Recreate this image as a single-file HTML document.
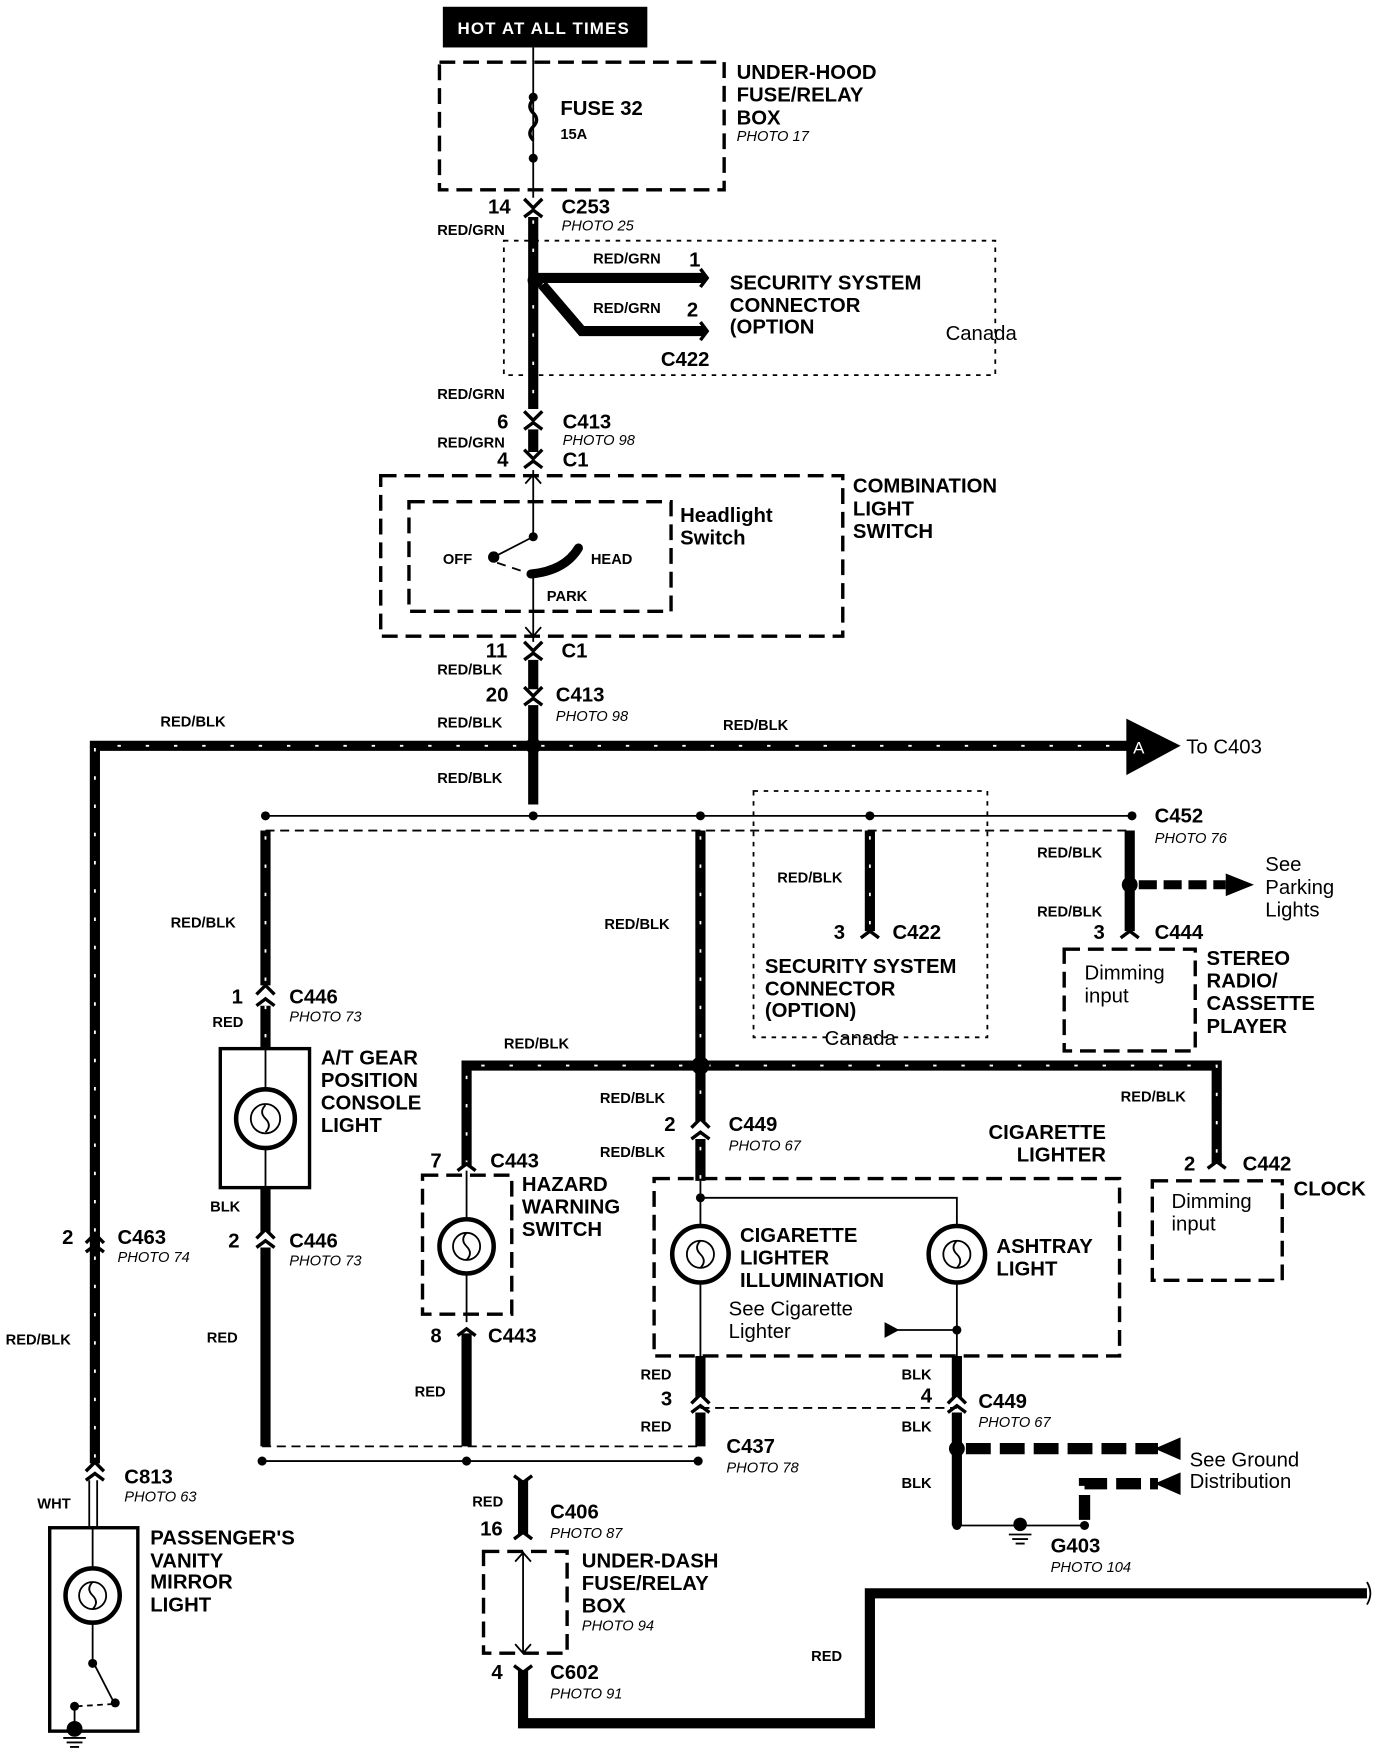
<!DOCTYPE html>
<html><head><meta charset="utf-8"><style>
html,body{margin:0;padding:0;background:#fff;}
svg{display:block;}
text{font-family:"Liberation Sans",Arial,sans-serif;fill:#000;}
.b{font-weight:bold;font-size:18px;}
.s{font-weight:bold;font-size:13px;}
.p{font-style:italic;font-size:13px;}
.n{font-size:18px;}
.w{stroke:#000;stroke-width:9;fill:none;}
.st{stroke:#fff;stroke-width:1.6;fill:none;stroke-dasharray:3 22;}
.t{stroke:#000;stroke-width:1.6;fill:none;}
.d{stroke:#000;stroke-width:3;fill:none;stroke-dasharray:14 7;}
.dt{stroke:#000;stroke-width:1.6;fill:none;stroke-dasharray:4 5;}
.c{stroke:#000;stroke-width:3;fill:none;}
</style></head><body>
<svg width="1376" height="1756" viewBox="0 0 1218 1554" preserveAspectRatio="none" xmlns="http://www.w3.org/2000/svg">
<!-- top -->
<rect x="392" y="6" width="181" height="36" fill="#000"/>
<text x="405" y="30" style="font-weight:bold;font-size:15px;fill:#fff;letter-spacing:1px">HOT AT ALL TIMES</text>
<rect x="389" y="55" width="252" height="113" class="d"/>
<line x1="472" y1="42" x2="472" y2="175" class="t"/>
<path d="M472 88 q-6 6 0 12 q6 6 0 12 q-6 6 0 12" class="c" stroke-width="2"/>
<circle cx="472" cy="86" r="4"/><circle cx="472" cy="140" r="4"/>
<text x="496" y="102" class="b">FUSE 32</text><text x="496" y="123" class="s">15A</text>
<text x="652" y="70" class="b">UNDER-HOOD</text><text x="652" y="90" class="b">FUSE/RELAY</text><text x="652" y="110" class="b">BOX</text><text x="652" y="125" class="p">PHOTO 17</text>
<!-- C253 -->
<path d="M464 176 l8 8 l8 -8 M464 192 l8 -6 l8 6" class="c"/>
<text x="432" y="189" class="b" font-size="16">14</text><text x="497" y="189" class="b">C253</text><text x="497" y="204" class="p">PHOTO 25</text>
<text x="387" y="208" class="s">RED/GRN</text>
<line x1="472" y1="192" x2="472" y2="362" class="w"/><line x1="472" y1="195" x2="472" y2="362" class="st"/>
<rect x="446" y="213" width="435" height="119" class="dt"/>
<circle cx="474" cy="248" r="7"/>
<path d="M474 246 L624 246" class="w"/><path d="M480 252 L515 293 L624 293" class="w"/>
<path d="M620 238 l6 8 l-6 8 M620 285 l6 8 l-6 8" class="c"/>
<text x="525" y="233" class="s">RED/GRN</text><text x="610" y="236" class="b" font-size="15">1</text>
<text x="525" y="277" class="s">RED/GRN</text><text x="608" y="280" class="b" font-size="15">2</text>
<text x="646" y="256" class="b">SECURITY SYSTEM</text><text x="646" y="276" class="b">CONNECTOR</text><text x="646" y="295" class="b">(OPTION</text>
<text x="837" y="301" class="n">Canada</text><text x="585" y="324" class="b">C422</text>
<text x="387" y="353" class="s">RED/GRN</text>
<!-- C413/C1 -->
<path d="M464 364 l8 8 l8 -8 M464 380 l8 -6 l8 6 M464 398 l8 8 l8 -8 M464 414 l8 -6 l8 6" class="c"/>
<line x1="472" y1="380" x2="472" y2="400" class="w"/>
<text x="440" y="379" class="b" font-size="16">6</text><text x="498" y="379" class="b">C413</text><text x="498" y="394" class="p">PHOTO 98</text>
<text x="387" y="396" class="s">RED/GRN</text>
<text x="440" y="413" class="b" font-size="16">4</text><text x="498" y="413" class="b">C1</text>
<rect x="337" y="421" width="409" height="142" class="d"/>
<rect x="362" y="444" width="232" height="97" class="d"/>
<line x1="472" y1="416" x2="472" y2="475" class="t"/><path d="M465 428 l7 -8 l7 8" class="t"/>
<line x1="472" y1="475" x2="437" y2="493" class="t"/><circle cx="472" cy="475" r="4"/><circle cx="437" cy="493" r="5"/>
<path d="M440 498 l30 10" class="t" stroke-dasharray="8 6"/>
<path d="M470 508 Q500 505 512 485" stroke="#000" stroke-width="8" fill="none" stroke-linecap="round"/>
<line x1="472" y1="508" x2="472" y2="568" class="t"/><path d="M465 555 l7 8 l7 -8" class="t"/>
<text x="392" y="499" class="s" font-size="14">OFF</text><text x="523" y="499" class="s" font-size="14">HEAD</text><text x="484" y="532" class="s" font-size="14">PARK</text>
<text x="602" y="462" class="b">Headlight</text><text x="602" y="482" class="b">Switch</text>
<text x="755" y="436" class="b">COMBINATION</text><text x="755" y="456" class="b">LIGHT</text><text x="755" y="476" class="b">SWITCH</text>
<path d="M464 568 l8 8 l8 -8 M464 584 l8 -6 l8 6 M464 608 l8 8 l8 -8 M464 624 l8 -6 l8 6" class="c"/>
<line x1="472" y1="584" x2="472" y2="610" class="w"/>
<text x="430" y="582" class="b" font-size="16">11</text><text x="497" y="582" class="b">C1</text>
<text x="387" y="597" class="s">RED/BLK</text>
<text x="430" y="621" class="b" font-size="16">20</text><text x="492" y="621" class="b">C413</text><text x="492" y="638" class="p">PHOTO 98</text>
<text x="387" y="644" class="s">RED/BLK</text>
<!-- bus -->
<path d="M84 1295 L84 660 L1000 660" class="w"/><path d="M84 1290 L84 660 L1000 660" class="st"/>
<line x1="472" y1="624" x2="472" y2="712" class="w"/>
<polygon points="997,636 1045,660 997,686" fill="#000"/>
<text x="1003" y="667" style="font-size:15px;fill:#fff">A</text>
<text x="1050" y="667" class="n">To C403</text>
<text x="142" y="643" class="s">RED/BLK</text><text x="640" y="646" class="s">RED/BLK</text>
<circle cx="472" cy="660" r="7"/>
<text x="387" y="693" class="s">RED/BLK</text>
<line x1="235" y1="722" x2="1002" y2="722" class="t"/>
<g><circle cx="235" cy="722" r="4"/><circle cx="472" cy="722" r="4"/><circle cx="620" cy="722" r="4"/><circle cx="770" cy="722" r="4"/><circle cx="1002" cy="722" r="4"/></g>
<line x1="235" y1="735" x2="1002" y2="735" class="t" stroke-dasharray="8 5"/>
<text x="1022" y="728" class="b">C452</text><text x="1022" y="746" class="p">PHOTO 76</text>
<!-- A/T -->
<path d="M235 735 L235 872 M235 890 L235 928" class="w"/><path d="M235 740 L235 928" class="st"/>
<path d="M227 880 l8 -8 l8 8 M227 890 l8 -6 l8 6" class="c"/>
<text x="151" y="821" class="s">RED/BLK</text>
<text x="205" y="888" class="b" font-size="16">1</text><text x="256" y="888" class="b">C446</text><text x="256" y="904" class="p">PHOTO 73</text>
<text x="188" y="909" class="s">RED</text>
<rect x="195" y="928" width="79" height="123" class="c" stroke-width="2.5"/>
<line x1="235" y1="928" x2="235" y2="1051" class="t"/>
<circle cx="235" cy="990" r="26" fill="#fff" stroke="#000" stroke-width="4"/><circle cx="235" cy="990" r="13" class="t"/><path d="M235 978 q-6 6 0 12 q6 6 0 12" class="t"/>
<text x="284" y="942" class="b">A/T GEAR</text><text x="284" y="962" class="b">POSITION</text><text x="284" y="982" class="b">CONSOLE</text><text x="284" y="1002" class="b">LIGHT</text>
<text x="186" y="1072" class="s">BLK</text>
<path d="M235 1051 L235 1090 M235 1104 L235 1280" class="w"/>
<path d="M227 1096 l8 -8 l8 8 M227 1104 l8 -6 l8 6" class="c"/>
<text x="202" y="1104" class="b" font-size="16">2</text><text x="256" y="1104" class="b">C446</text><text x="256" y="1120" class="p">PHOTO 73</text>
<text x="183" y="1188" class="s">RED</text>
<!-- left C463 -->
<path d="M76 1100 l8 -8 l8 8 M76 1108 l8 -6 l8 6" class="c" stroke="#000"/>
<text x="55" y="1101" class="b" font-size="16">2</text><text x="104" y="1101" class="b">C463</text><text x="104" y="1117" class="p">PHOTO 74</text>
<text x="5" y="1190" class="s">RED/BLK</text>
<path d="M76 1302 l8 -8 l8 8 M76 1310 l8 -6 l8 6" class="c"/>
<text x="110" y="1313" class="b">C813</text><text x="110" y="1329" class="p">PHOTO 63</text>
<text x="33" y="1335" class="s">WHT</text>
<path d="M79 1310 L79 1352 M86 1310 L86 1352" class="t"/>
<rect x="44" y="1352" width="78" height="180" class="c" stroke-width="2.5"/>
<line x1="82" y1="1352" x2="82" y2="1470" class="t"/>
<circle cx="82" cy="1412" r="24" fill="#fff" stroke="#000" stroke-width="4"/><circle cx="82" cy="1412" r="12" class="t"/><path d="M82 1400 q-6 6 0 12 q6 6 0 12" class="t"/>
<path d="M82 1470 L100 1505" class="t" stroke-width="2.5"/><circle cx="82" cy="1472" r="4"/><circle cx="102" cy="1507" r="4"/>
<path d="M100 1508 L68 1510" class="t" stroke-dasharray="5 4"/><circle cx="66" cy="1510" r="4"/>
<line x1="66" y1="1510" x2="66" y2="1536" class="t"/><circle cx="66" cy="1530" r="7"/>
<path d="M56 1538 h20 M59 1542 h14 M62 1546 h8" class="t"/>
<text x="133" y="1367" class="b">PASSENGER'S</text><text x="133" y="1387" class="b">VANITY</text><text x="133" y="1406" class="b">MIRROR</text><text x="133" y="1426" class="b">LIGHT</text>
<!-- middle -->
<line x1="232" y1="1280" x2="618" y2="1280" class="t" stroke-dasharray="8 5"/>
<line x1="232" y1="1293" x2="618" y2="1293" class="t"/>
<circle cx="232" cy="1293" r="4"/><circle cx="413" cy="1293" r="4"/><circle cx="618" cy="1293" r="4"/>
<path d="M413 1032 L413 943 L1077 943 L1077 1030" class="w"/><path d="M413 1030 L413 943 L1077 943 L1077 1030" class="st"/>
<path d="M620 735 L620 992 M620 1008 L620 1045" class="w"/><path d="M620 740 L620 1045" class="st"/>
<circle cx="620" cy="943" r="8"/>
<text x="535" y="822" class="s">RED/BLK</text><text x="446" y="928" class="s">RED/BLK</text>
<text x="531" y="976" class="s">RED/BLK</text><text x="531" y="1024" class="s">RED/BLK</text>
<path d="M612 998 l8 -8 l8 8 M612 1008 l8 -6 l8 6" class="c"/>
<text x="588" y="1001" class="b" font-size="16">2</text><text x="645" y="1001" class="b">C449</text><text x="645" y="1018" class="p">PHOTO 67</text>
<text x="875" y="1008" class="b">CIGARETTE</text><text x="900" y="1028" class="b">LIGHTER</text>
<!-- hazard -->
<path d="M405 1036 l8 -6 l8 6" class="c"/>
<text x="381" y="1033" class="b" font-size="16">7</text><text x="434" y="1033" class="b">C443</text>
<rect x="374" y="1040" width="79" height="123" class="d"/>
<line x1="413" y1="1036" x2="413" y2="1170" class="t"/>
<circle cx="413" cy="1103" r="24" fill="#fff" stroke="#000" stroke-width="4"/><circle cx="413" cy="1103" r="12" class="t"/><path d="M413 1091 q-6 6 0 12 q6 6 0 12" class="t"/>
<text x="462" y="1054" class="b">HAZARD</text><text x="462" y="1074" class="b">WARNING</text><text x="462" y="1094" class="b">SWITCH</text>
<path d="M405 1182 l8 -6 l8 6" class="c"/><line x1="413" y1="1180" x2="413" y2="1280" class="w"/>
<text x="381" y="1188" class="b" font-size="16">8</text><text x="432" y="1188" class="b">C443</text>
<text x="367" y="1236" class="s">RED</text>
<!-- cig box -->
<rect x="579" y="1043" width="412" height="157" class="d"/>
<path d="M620 1045 L620 1085 M620 1060 L847 1060 L847 1085" class="t"/><circle cx="620" cy="1060" r="4"/>
<circle cx="620" cy="1110" r="25" fill="#fff" stroke="#000" stroke-width="4"/><circle cx="620" cy="1110" r="12" class="t"/><path d="M620 1098 q-6 6 0 12 q6 6 0 12" class="t"/>
<circle cx="847" cy="1110" r="25" fill="#fff" stroke="#000" stroke-width="4"/><circle cx="847" cy="1110" r="12" class="t"/><path d="M847 1098 q-6 6 0 12 q6 6 0 12" class="t"/>
<path d="M620 1135 L620 1200 M847 1135 L847 1200 M790 1177 L847 1177" class="t"/>
<polygon points="783,1170 796,1177 783,1184" fill="#000"/><circle cx="847" cy="1177" r="4"/>
<text x="655" y="1099" class="b">CIGARETTE</text><text x="655" y="1119" class="b">LIGHTER</text><text x="655" y="1139" class="b">ILLUMINATION</text>
<text x="882" y="1109" class="b">ASHTRAY</text><text x="882" y="1129" class="b">LIGHT</text>
<text x="645" y="1164" class="n">See Cigarette</text><text x="645" y="1184" class="n">Lighter</text>
<path d="M620 1200 L620 1236 M620 1250 L620 1280 M847 1200 L847 1236 M847 1250 L847 1350" class="w"/>
<path d="M612 1242 l8 -8 l8 8 M612 1250 l8 -6 l8 6 M839 1242 l8 -8 l8 8 M839 1250 l8 -6 l8 6" class="c"/>
<line x1="620" y1="1246" x2="847" y2="1246" class="t" stroke-dasharray="8 5"/>
<text x="567" y="1221" class="s">RED</text><text x="585" y="1244" class="b" font-size="16">3</text><text x="567" y="1267" class="s">RED</text>
<text x="643" y="1286" class="b">C437</text><text x="643" y="1303" class="p">PHOTO 78</text>
<text x="798" y="1221" class="s">BLK</text><text x="815" y="1241" class="b" font-size="16">4</text><text x="798" y="1267" class="s">BLK</text>
<text x="866" y="1246" class="b">C449</text><text x="866" y="1263" class="p">PHOTO 67</text>
<circle cx="847" cy="1282" r="7"/>
<path d="M855 1282 L1025 1282" stroke="#000" stroke-width="10" stroke-dasharray="22 8"/><polygon points="1045,1272 1022,1282 1045,1292" fill="#000"/>
<path d="M960 1345 L960 1313 L1025 1313" stroke="#000" stroke-width="10" fill="none" stroke-dasharray="22 8"/><polygon points="1045,1303 1022,1313 1045,1323" fill="#000"/>
<text x="1053" y="1298" class="n">See Ground</text><text x="1053" y="1317" class="n">Distribution</text>
<text x="798" y="1317" class="s">BLK</text>
<line x1="847" y1="1350" x2="960" y2="1350" class="t"/><circle cx="847" cy="1350" r="4"/><circle cx="960" cy="1350" r="4"/>
<circle cx="903" cy="1349" r="6"/><path d="M893 1358 h20 M896 1362 h14 M899 1366 h8" class="t"/>
<text x="930" y="1374" class="b">G403</text><text x="930" y="1391" class="p">PHOTO 104</text>
<!-- clock -->
<path d="M1069 1034 l8 -6 l8 6" class="c"/>
<text x="992" y="975" class="s">RED/BLK</text>
<text x="1048" y="1036" class="b" font-size="16">2</text><text x="1100" y="1036" class="b">C442</text>
<rect x="1020" y="1045" width="115" height="88" class="d"/>
<text x="1037" y="1069" class="n">Dimming</text><text x="1037" y="1089" class="n">input</text>
<text x="1145" y="1058" class="b">CLOCK</text>
<!-- security 2 -->
<rect x="667" y="700" width="207" height="218" class="dt"/>
<line x1="770" y1="735" x2="770" y2="824" class="w"/><line x1="770" y1="740" x2="770" y2="824" class="st"/>
<path d="M762 830 l8 -6 l8 6" class="c"/>
<text x="688" y="781" class="s">RED/BLK</text>
<text x="738" y="831" class="b" font-size="16">3</text><text x="790" y="831" class="b">C422</text>
<text x="677" y="861" class="b">SECURITY SYSTEM</text><text x="677" y="881" class="b">CONNECTOR</text><text x="677" y="900" class="b">(OPTION)</text>
<text x="730" y="925" class="n">Canada</text>
<!-- stereo -->
<path d="M1000 735 L1000 824" class="w"/><circle cx="1000" cy="783" r="7"/>
<path d="M1008 783 L1085 783" stroke="#000" stroke-width="8" stroke-dasharray="16 6"/><polygon points="1085,773 1110,783 1085,793" fill="#000"/>
<path d="M992 830 l8 -6 l8 6" class="c"/>
<text x="918" y="759" class="s">RED/BLK</text><text x="918" y="811" class="s">RED/BLK</text>
<text x="1120" y="771" class="n">See</text><text x="1120" y="791" class="n">Parking</text><text x="1120" y="811" class="n">Lights</text>
<text x="968" y="831" class="b" font-size="16">3</text><text x="1022" y="831" class="b">C444</text>
<rect x="942" y="840" width="116" height="90" class="d"/>
<text x="960" y="867" class="n">Dimming</text><text x="960" y="887" class="n">input</text>
<text x="1068" y="854" class="b">STEREO</text><text x="1068" y="874" class="b">RADIO/</text><text x="1068" y="894" class="b">CASSETTE</text><text x="1068" y="914" class="b">PLAYER</text>
<!-- bottom -->
<path d="M455 1306 l8 6 l8 -6 M455 1362 l8 -6 l8 6" class="c"/><line x1="463" y1="1310" x2="463" y2="1358" class="w"/>
<text x="418" y="1333" class="s">RED</text>
<text x="425" y="1359" class="b" font-size="16">16</text><text x="487" y="1344" class="b">C406</text><text x="487" y="1361" class="p">PHOTO 87</text>
<rect x="428" y="1373" width="74" height="90" class="d"/>
<line x1="463" y1="1373" x2="463" y2="1463" class="t"/><path d="M456 1382 l7 -8 l7 8 M456 1455 l7 8 l7 -8" class="t"/>
<text x="515" y="1387" class="b">UNDER-DASH</text><text x="515" y="1407" class="b">FUSE/RELAY</text><text x="515" y="1427" class="b">BOX</text><text x="515" y="1443" class="p">PHOTO 94</text>
<path d="M455 1474 l8 6 l8 -6" class="c"/>
<text x="435" y="1486" class="b" font-size="16">4</text><text x="487" y="1486" class="b">C602</text><text x="487" y="1503" class="p">PHOTO 91</text>
<path d="M463 1478 L463 1525 L770 1525 L770 1410 L1210 1410" class="w"/>
<path d="M1210 1400 q6 10 0 20" class="t" stroke-width="2"/>
<text x="718" y="1470" class="s">RED</text>
</svg>
</body></html>
